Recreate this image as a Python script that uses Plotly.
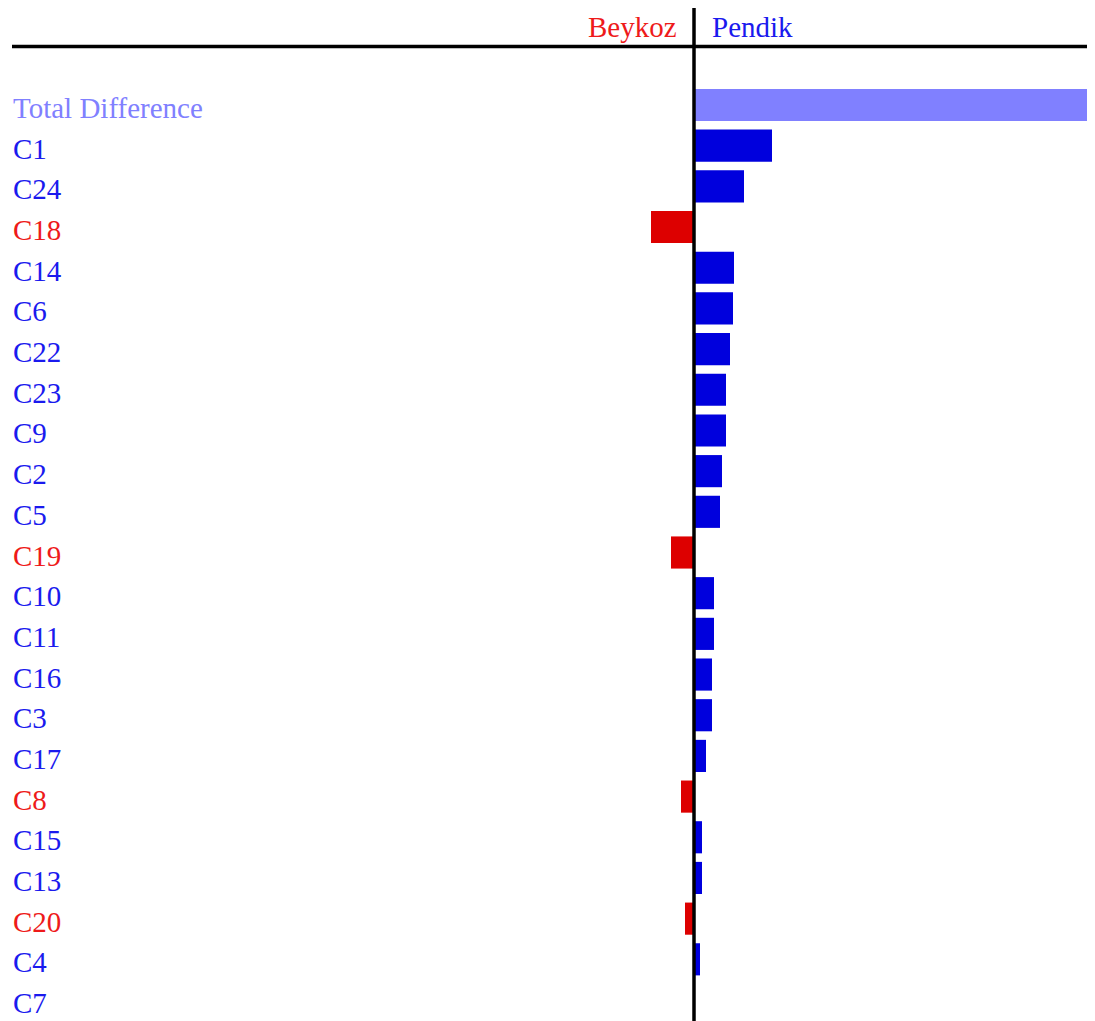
import plotly.graph_objects as go

# ---- data ----
categories = ["Total Difference", "C1", "C24", "C18", "C14", "C6", "C22", "C23", "C9", "C2",
              "C5", "C19", "C10", "C11", "C16", "C3", "C17", "C8", "C15", "C13", "C20", "C4", "C7"]
differences = [40.1, 7.8, 5.0, -4.3, 4.0, 3.9, 3.6, 3.2, 3.2, 2.8,
               2.6, -2.3, 2.0, 2.0, 1.8, 1.8, 1.2, -1.3, 0.8, 0.8, -0.9, 0.6, 0.0]
left_group = "Beykoz"
right_group = "Pendik"

# ---- styling ----
# the page body adds an 8px margin, so the figure is drawn 8px smaller and
# every reference pixel position is shifted by -8
OFF = 8
W, H = 1095 - OFF, 1021 - OFF
FONT = "Liberation Serif, Times New Roman, serif"
FS = 29
BLUE_BAR, RED_BAR, TOTAL_BAR = "#0000dd", "#dd0000", "#8080ff"
BLUE_TXT, RED_TXT, TOTAL_TXT = "#1a1aee", "#ee1a1a", "#8080ff"


def px(xr):
    return (xr - OFF) / W


def py(yr):
    return 1 - (yr - OFF) / H


bar_colors = []
txt_colors = []
for c, v in zip(categories, differences):
    if c == "Total Difference":
        bar_colors.append(TOTAL_BAR); txt_colors.append(TOTAL_TXT)
    elif v < 0:
        bar_colors.append(RED_BAR); txt_colors.append(RED_TXT)
    else:
        bar_colors.append(BLUE_BAR); txt_colors.append(BLUE_TXT)

fig = go.Figure(go.Bar(
    x=differences, y=categories, orientation="h",
    marker=dict(color=bar_colors, line=dict(width=0)),
    width=0.79, hoverinfo="x+y",
))

# row geometry: first row centre at 105px, last at 1000px (reference pixels)
first_c, last_c = 105 - OFF, 1000 - OFF
pitch = (last_c - first_c) / (len(categories) - 1)
y_top = -first_c / pitch
y_bot = (len(categories) - 1) + (H - last_c) / pitch
# x geometry: zero at 694px (reference), 0.1 unit per px
zero_px = 694 - OFF
x_left = -zero_px * 0.1
x_right = (W - zero_px) * 0.1

annotations = []
for c, col in zip(categories, txt_colors):
    annotations.append(dict(
        x=px(11), xref="paper", xanchor="left",
        y=c, yref="y", yanchor="middle", yshift=-3,
        text=c, showarrow=False,
        font=dict(family=FONT, size=FS, color=col),
    ))
annotations.append(dict(x=px(679), xref="paper", xanchor="right",
                        y=py(27), yref="paper", yanchor="middle",
                        text=left_group, showarrow=False,
                        font=dict(family=FONT, size=FS, color="#ee1a1a")))
annotations.append(dict(x=px(710), xref="paper", xanchor="left",
                        y=py(27), yref="paper", yanchor="middle",
                        text=right_group, showarrow=False,
                        font=dict(family=FONT, size=FS, color="#1a1aee")))

shapes = [
    dict(type="line", xref="paper", yref="paper", x0=px(12), x1=1, y0=py(46.5), y1=py(46.5),
         line=dict(color="black", width=3.5)),
    dict(type="line", xref="x", yref="paper", x0=0, x1=0, y0=0, y1=1,
         line=dict(color="black", width=3.5)),
]

fig.update_layout(
    width=W, height=H,
    margin=dict(l=0, r=0, t=0, b=0),
    paper_bgcolor="white", plot_bgcolor="white",
    showlegend=False,
    xaxis=dict(range=[x_left, x_right], visible=False, fixedrange=True),
    yaxis=dict(range=[y_bot, y_top], visible=False, type="category",
               categoryorder="array", categoryarray=categories, fixedrange=True),
    annotations=annotations,
    shapes=shapes,
    font=dict(family=FONT),
)

fig.write_html("out.html", config={"displayModeBar": False})
